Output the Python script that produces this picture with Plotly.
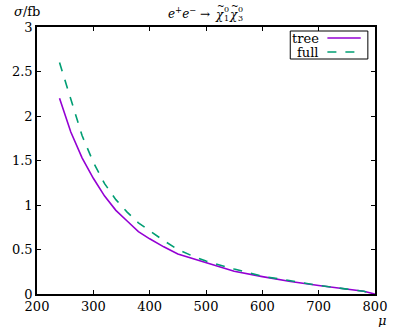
import plotly.graph_objects as go

mu = [240, 260, 280, 300, 320, 340, 360, 380, 400, 425, 450, 475, 500,
      550, 600, 650, 700, 750, 780, 800]
sigma_tree = [2.20, 1.82, 1.53, 1.30, 1.10, 0.94, 0.82, 0.70, 0.62, 0.53,
              0.45, 0.40, 0.35, 0.255, 0.195, 0.14, 0.095, 0.055, 0.03, 0.0]
sigma_full = [2.60, 2.18, 1.78, 1.48, 1.24, 1.06, 0.92, 0.80, 0.71, 0.60,
              0.50, 0.43, 0.37, 0.28, 0.20, 0.145, 0.097, 0.055, 0.03, 0.0]
x_ticks = [200, 300, 400, 500, 600, 700, 800]
y_ticks = [0, 0.5, 1, 1.5, 2, 2.5, 3]
y_tick_labels = ["0", "0.5", "1", "1.5", "2", "2.5", "3"]

W, H = 399, 327
L, R, T, B = 28, 16, 27, 33
PW, PH = W - L - R, H - T - B
FONT = "DejaVu Serif"
C_TREE = "#9400d3"
C_FULL = "#009e73"


def px(x):
    return (x - L) / PW


def py(y):
    return (H - B - y) / PH


fig = go.Figure()
fig.add_trace(go.Scatter(x=mu, y=sigma_tree, mode="lines", name="tree",
                         line=dict(color=C_TREE, width=1.6), showlegend=False))
fig.add_trace(go.Scatter(x=mu, y=sigma_full, mode="lines", name="full",
                         line=dict(color=C_FULL, width=1.6, dash="dash"),
                         showlegend=False))

ann = []
shapes = []


def text(x, y, s, size=13, xanchor="center", yanchor="middle"):
    ann.append(dict(x=px(x), y=py(y), xref="paper", yref="paper", text=s,
                    showarrow=False, xanchor=xanchor, yanchor=yanchor,
                    font=dict(family=FONT, size=size, color="black")))


# axis labels
text(2, 11, "<i>σ</i>/fb", 13, xanchor="left")
text(390, 320, "<i>μ</i>", 13)

# title pieces
text(212, 13, "<i>e</i><sup>+</sup><i>e</i><sup>−</sup> →", 12, xanchor="right")
text(213, 15, "<i>χ</i>", 12, xanchor="left")
text(214.5, 6, "~", 9, xanchor="left")
text(222, 9, "0", 8, xanchor="left")
text(222, 19, "1", 8, xanchor="left")
text(228, 15, "<i>χ</i>", 12, xanchor="left")
text(229.5, 6, "~", 9, xanchor="left")
text(237, 9, "0", 8, xanchor="left")
text(237, 19, "3", 8, xanchor="left")

# legend
shapes.append(dict(type="rect", xref="paper", yref="paper",
                   x0=px(294), x1=px(375.5), y0=py(59), y1=py(31),
                   line=dict(color="black", width=1), fillcolor="white"))
text(326, 38, "tree", 13, xanchor="right")
text(326, 52, "full", 13, xanchor="right")
shapes.append(dict(type="line", xref="paper", yref="paper",
                   x0=px(333), x1=px(368), y0=py(38), y1=py(38),
                   line=dict(color=C_TREE, width=1.6)))
shapes.append(dict(type="line", xref="paper", yref="paper",
                   x0=px(333), x1=px(368), y0=py(52), y1=py(52),
                   line=dict(color=C_FULL, width=1.6, dash="dash")))

axis_common = dict(showline=True, linecolor="black", linewidth=1.5,
                   mirror="ticks", ticks="inside", ticklen=4, tickwidth=1,
                   tickcolor="black", showgrid=False, zeroline=False,
                   tickfont=dict(family=FONT, size=13, color="black"))

fig.update_layout(
    width=W, height=H,
    margin=dict(l=L, r=R, t=T, b=B, pad=0),
    paper_bgcolor="white", plot_bgcolor="white",
    font=dict(family=FONT, size=13, color="black"),
    xaxis=dict(range=[200, 800], tickvals=x_ticks,
               ticktext=[str(v) for v in x_ticks], **axis_common),
    yaxis=dict(range=[0, 3], tickvals=y_ticks, ticktext=y_tick_labels,
               **axis_common),
    annotations=ann, shapes=shapes,
)

fig.write_html("out.html", config={"displayModeBar": False},
               post_script="document.body.style.margin='0';"
                           "document.body.style.overflow='hidden';")
